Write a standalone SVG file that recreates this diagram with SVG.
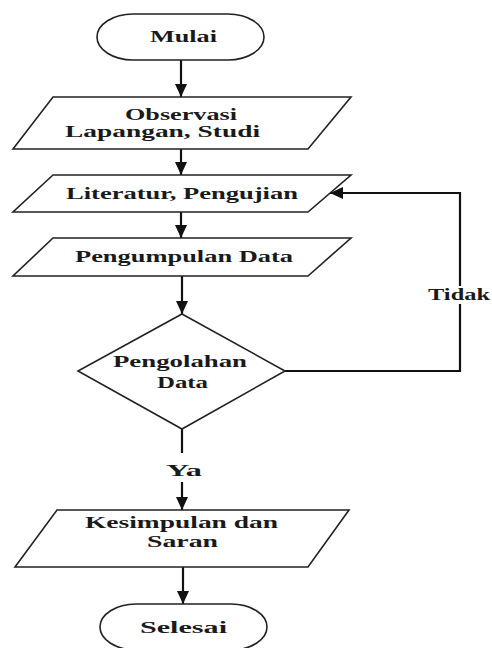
<svg xmlns="http://www.w3.org/2000/svg" width="492" height="648" viewBox="0 0 492 648">
  <style>
    .shape { fill: #ffffff; stroke: #222222; stroke-width: 1.6; }
    .conn { fill: none; stroke: #111111; stroke-width: 2.2; }
    .txt { font-family: "Liberation Serif", "Times New Roman", serif; font-weight: bold; font-size: 17px; fill: #1a1a1a; }
    .sm { font-size: 16px; }
  </style>
  <defs>
    <marker id="arrow" markerUnits="userSpaceOnUse" markerWidth="14" markerHeight="14" viewBox="0 0 14 14" refX="13" refY="7" orient="auto">
      <path d="M0,1 L13,7 L0,13 Z" fill="#111111"/>
    </marker>
  </defs>
  <rect width="492" height="648" fill="#ffffff"/>

  <g id="connectors">
    <path class="conn" d="M181,60 V97" marker-end="url(#arrow)"/>
    <path class="conn" d="M181,149 V175" marker-end="url(#arrow)"/>
    <path class="conn" d="M181,212 V238" marker-end="url(#arrow)"/>
    <path class="conn" d="M182,276 V314" marker-end="url(#arrow)"/>
    <path class="conn" d="M182,429 V453"/>
    <path class="conn" d="M182,482 V510" marker-end="url(#arrow)"/>
    <path class="conn" d="M183,567 V604" marker-end="url(#arrow)"/>
    <path class="conn" d="M285,371 H460 V193 H330" stroke-width="1.8" marker-end="url(#arrow)"/>
    <rect x="426" y="286" width="66" height="18" fill="#ffffff"/>
    <text class="txt" x="428" y="300" textLength="62" lengthAdjust="spacingAndGlyphs">Tidak</text>
    <text class="txt" x="166" y="476" textLength="36" lengthAdjust="spacingAndGlyphs">Ya</text>
  </g>

  <g id="mulai">
    <rect class="shape" x="97" y="14" width="167" height="46" rx="36" ry="23"/>
    <text class="txt" x="150" y="42" textLength="67" lengthAdjust="spacingAndGlyphs">Mulai</text>
  </g>

  <g id="observasi">
    <polygon class="shape" points="53,97 351,97 308,149 13,149"/>
    <text class="txt" x="125" y="120" textLength="112" lengthAdjust="spacingAndGlyphs">Observasi</text>
    <text class="txt" x="65" y="137" textLength="195" lengthAdjust="spacingAndGlyphs">Lapangan, Studi</text>
  </g>

  <g id="literatur">
    <polygon class="shape" points="53,175 351,175 308,212 13,212"/>
    <text class="txt" x="66" y="199" textLength="232" lengthAdjust="spacingAndGlyphs">Literatur, Pengujian</text>
  </g>

  <g id="pengumpulan">
    <polygon class="shape" points="53,238 351,238 308,276 13,276"/>
    <text class="txt" x="75" y="262" textLength="218" lengthAdjust="spacingAndGlyphs">Pengumpulan Data</text>
  </g>

  <g id="pengolahan">
    <polygon class="shape" points="182,314 285,371 182,429 78,371"/>
    <text class="txt sm" x="113" y="367" textLength="134" lengthAdjust="spacingAndGlyphs">Pengolahan</text>
    <text class="txt sm" x="157" y="388" textLength="51" lengthAdjust="spacingAndGlyphs">Data</text>
  </g>

  <g id="kesimpulan">
    <polygon class="shape" points="57,510 349,510 308,567 15,567"/>
    <text class="txt" x="85" y="528" textLength="193" lengthAdjust="spacingAndGlyphs">Kesimpulan dan</text>
    <text class="txt" x="147" y="547" textLength="71" lengthAdjust="spacingAndGlyphs">Saran</text>
  </g>

  <g id="selesai">
    <rect class="shape" x="100" y="604" width="167" height="46" rx="36" ry="23"/>
    <text class="txt" x="140" y="633" textLength="87" lengthAdjust="spacingAndGlyphs">Selesai</text>
  </g>
</svg>
